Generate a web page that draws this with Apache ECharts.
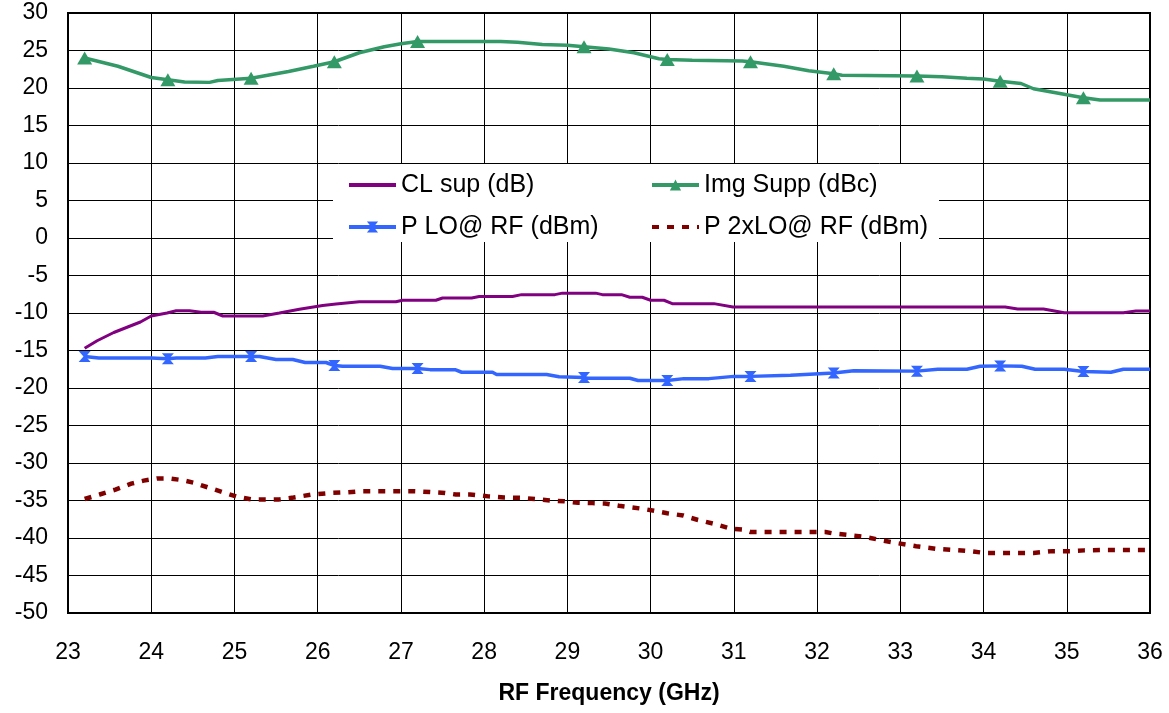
<!DOCTYPE html>
<html>
<head>
<meta charset="utf-8">
<script src="https://cdn.jsdelivr.net/npm/echarts@6/dist/echarts.min.js"></script>
<style>
html,body{margin:0;padding:0;background:#fff;}
#chart{width:1169px;height:713px;}
</style>
</head>
<body>
<div id="chart"></div>
<script>
// ---- data ----
const xTicks = [23,24,25,26,27,28,29,30,31,32,33,34,35,36];
const yTicks = [-50,-45,-40,-35,-30,-25,-20,-15,-10,-5,0,5,10,15,20,25,30];
const markerFreqs = [23.2,24.2,25.2,26.2,27.2,29.2,30.2,31.2,32.2,33.2,34.2,35.2];

const clName = 'CL sup (dB)';
const clFreq = [23.2,23.35,23.55,23.71,23.87,24.0,24.19,24.3,24.46,24.6,24.75,24.86,25.34,25.54,25.78,26.06,26.22,26.5,26.94,27.02,27.42,27.5,27.85,27.94,28.34,28.45,28.85,28.94,29.34,29.42,29.65,29.75,29.9,30.0,30.16,30.26,30.76,30.99,34.26,34.41,34.72,34.97,35.68,35.83,36.0];
const clVals = [-14.7,-13.7,-12.6,-11.9,-11.2,-10.4,-10.0,-9.7,-9.7,-9.9,-9.9,-10.4,-10.4,-10.0,-9.5,-9.0,-8.8,-8.5,-8.5,-8.3,-8.3,-8.0,-8.0,-7.8,-7.8,-7.55,-7.55,-7.35,-7.35,-7.55,-7.55,-7.9,-7.9,-8.3,-8.3,-8.75,-8.75,-9.2,-9.2,-9.47,-9.47,-9.96,-9.96,-9.73,-9.73];

const imgName = 'Img Supp (dBc)';
const imgFreq = [23.2,23.6,24.0,24.2,24.4,24.7,24.8,25.2,25.65,25.95,26.2,26.3,26.5,26.8,27.0,27.2,28.2,28.4,28.7,29.0,29.2,29.5,29.8,30.1,30.2,30.5,31.1,31.2,31.6,31.9,32.2,32.3,33.2,33.5,33.8,34.0,34.2,34.45,34.6,34.9,35.2,35.4,36.0];
const imgVals = [24.0,22.9,21.4,21.1,20.8,20.75,21.0,21.3,22.2,22.9,23.5,23.9,24.7,25.5,25.9,26.2,26.2,26.1,25.8,25.7,25.5,25.2,24.7,23.9,23.8,23.7,23.6,23.5,22.9,22.3,21.9,21.7,21.6,21.5,21.3,21.2,20.9,20.6,19.9,19.3,18.7,18.4,18.4];

const loName = 'P LO@ RF (dBm)';
const loFreq = [23.2,23.37,24.0,24.2,24.3,24.65,24.8,25.2,25.3,25.5,25.7,25.85,26.1,26.2,26.3,26.75,26.9,27.2,27.35,27.65,27.73,28.1,28.15,28.75,28.9,29.2,29.24,29.75,29.85,30.2,30.4,30.7,31.0,31.2,31.68,32.2,32.44,33.2,33.45,33.8,33.96,34.2,34.46,34.62,34.97,35.2,35.53,35.68,36.0];
const loVals = [-15.8,-16.0,-16.0,-16.1,-16.0,-16.0,-15.8,-15.8,-15.8,-16.2,-16.2,-16.6,-16.6,-17.0,-17.1,-17.1,-17.4,-17.4,-17.55,-17.55,-17.9,-17.9,-18.2,-18.2,-18.5,-18.6,-18.7,-18.7,-19.0,-19.0,-18.75,-18.75,-18.45,-18.45,-18.3,-18.0,-17.7,-17.75,-17.5,-17.5,-17.1,-17.05,-17.1,-17.5,-17.5,-17.8,-17.9,-17.5,-17.5];

const lo2Name = 'P 2xLO@ RF (dBm)';
const lo2Freq = [23.2,23.38,23.57,23.76,23.91,24.07,24.22,24.38,24.52,24.68,24.86,25.02,25.2,25.54,25.71,25.93,26.15,26.36,26.53,27.1,27.23,27.38,27.53,27.66,27.83,28.05,28.24,28.46,28.65,28.8,28.96,29.13,29.3,29.45,29.62,29.76,29.9,30.08,30.2,30.39,30.57,30.78,30.96,31.12,31.2,31.94,32.1,32.2,32.38,32.58,32.77,32.97,33.19,33.44,33.65,33.84,34.02,34.6,34.83,35.04,35.21,35.46,36.0];
const lo2Vals = [-34.8,-34.2,-33.55,-32.75,-32.35,-32.05,-32.05,-32.3,-32.65,-33.25,-33.9,-34.45,-34.85,-34.85,-34.6,-34.2,-34.0,-33.9,-33.75,-33.75,-33.8,-33.9,-34.0,-34.2,-34.2,-34.45,-34.6,-34.65,-34.85,-35.0,-35.1,-35.3,-35.35,-35.4,-35.7,-35.9,-36.1,-36.45,-36.7,-37.0,-37.6,-38.15,-38.75,-38.9,-39.2,-39.2,-39.2,-39.4,-39.6,-39.85,-40.3,-40.7,-41.1,-41.45,-41.6,-41.75,-42.0,-42.0,-41.75,-41.75,-41.65,-41.6,-41.6];

// ---- build ----
const FONT = '"Liberation Sans", Arial, sans-serif';
const isMarker = f => markerFreqs.some(m => Math.abs(m - f) < 1e-6);
const pairs = (xs, ys) => xs.map((x, i) => [x, ys[i]]);
const marked = (xs, ys) => xs.map((x, i) => isMarker(x) ? {value:[x, ys[i]]} : {value:[x, ys[i]], symbol:'none'});
const noSym = {color: 'rgba(0,0,0,0)', borderColor: 'rgba(0,0,0,0)', borderWidth: 0};

const chart = echarts.init(document.getElementById('chart'), null, {renderer:'canvas'});
const legendText = {fontFamily: FONT, fontSize: 25, color: '#000', lineHeight: 26};

chart.setOption({
  animation: false,
  backgroundColor: '#fff',
  grid: {left: 68, right: 19, top: 13, bottom: 100, show: true, borderColor: '#000', borderWidth: 2, backgroundColor: 'transparent'},
  xAxis: {
    type: 'value', min: xTicks[0], max: xTicks[xTicks.length-1], interval: 1,
    name: 'RF Frequency (GHz)', nameLocation: 'middle', nameGap: 69,
    nameTextStyle: {fontFamily: FONT, fontSize: 23, fontWeight: 'bold', color: '#000'},
    axisLine: {show: false}, axisTick: {show: false},
    axisLabel: {fontFamily: FONT, fontSize: 23, color: '#000', margin: 28},
    splitLine: {show: true, lineStyle: {color: '#000', width: 1}}
  },
  yAxis: {
    type: 'value', min: yTicks[0], max: yTicks[yTicks.length-1], interval: 5,
    axisLine: {show: false}, axisTick: {show: false},
    axisLabel: {fontFamily: FONT, fontSize: 23, color: '#000', margin: 20},
    splitLine: {show: true, lineStyle: {color: '#000', width: 1}}
  },
  graphic: [{
    type: 'rect', z: 3, silent: true,
    shape: {x: 333, y: 164, width: 606, height: 78},
    style: {fill: '#fff', stroke: null}
  }],
  legend: [
    {data: [{name: clName, itemStyle: noSym}, loName], orient: 'vertical', left: 347, top: 172, itemWidth: 47, itemHeight: 14,
     itemGap: 16, padding: 0, textStyle: legendText, z: 5, lineStyle: {width: 4}},
    {data: [imgName, {name: lo2Name, itemStyle: noSym}], orient: 'vertical', left: 650, top: 172, itemWidth: 47, itemHeight: 14,
     itemGap: 16, padding: 0, textStyle: legendText, z: 5, lineStyle: {width: 4}}
  ],
  series: [
    {name: clName, type: 'line', data: pairs(clFreq, clVals), symbol: 'none',
     lineStyle: {color: '#800080', width: 3}, itemStyle: {color: '#800080'}},
    {name: imgName, type: 'line', data: marked(imgFreq, imgVals), symbol: 'triangle', symbolSize: [15, 13],
     showAllSymbol: true,
     lineStyle: {color: '#339966', width: 3.5}, itemStyle: {color: '#339966'}},
    {name: loName, type: 'line', data: marked(loFreq, loVals),
     symbol: 'path://M0,0L10,0L6,5L10,10L0,10L4,5Z', symbolSize: [12, 11], showAllSymbol: true,
     lineStyle: {color: '#3366FF', width: 3.5}, itemStyle: {color: '#3366FF'}},
    {name: lo2Name, type: 'line', data: pairs(lo2Freq, lo2Vals), symbol: 'none',
     lineStyle: {color: '#800000', width: 4.5, type: [7, 8], cap: 'butt'}, itemStyle: {color: '#800000'}}
  ]
});
</script>
</body>
</html>
